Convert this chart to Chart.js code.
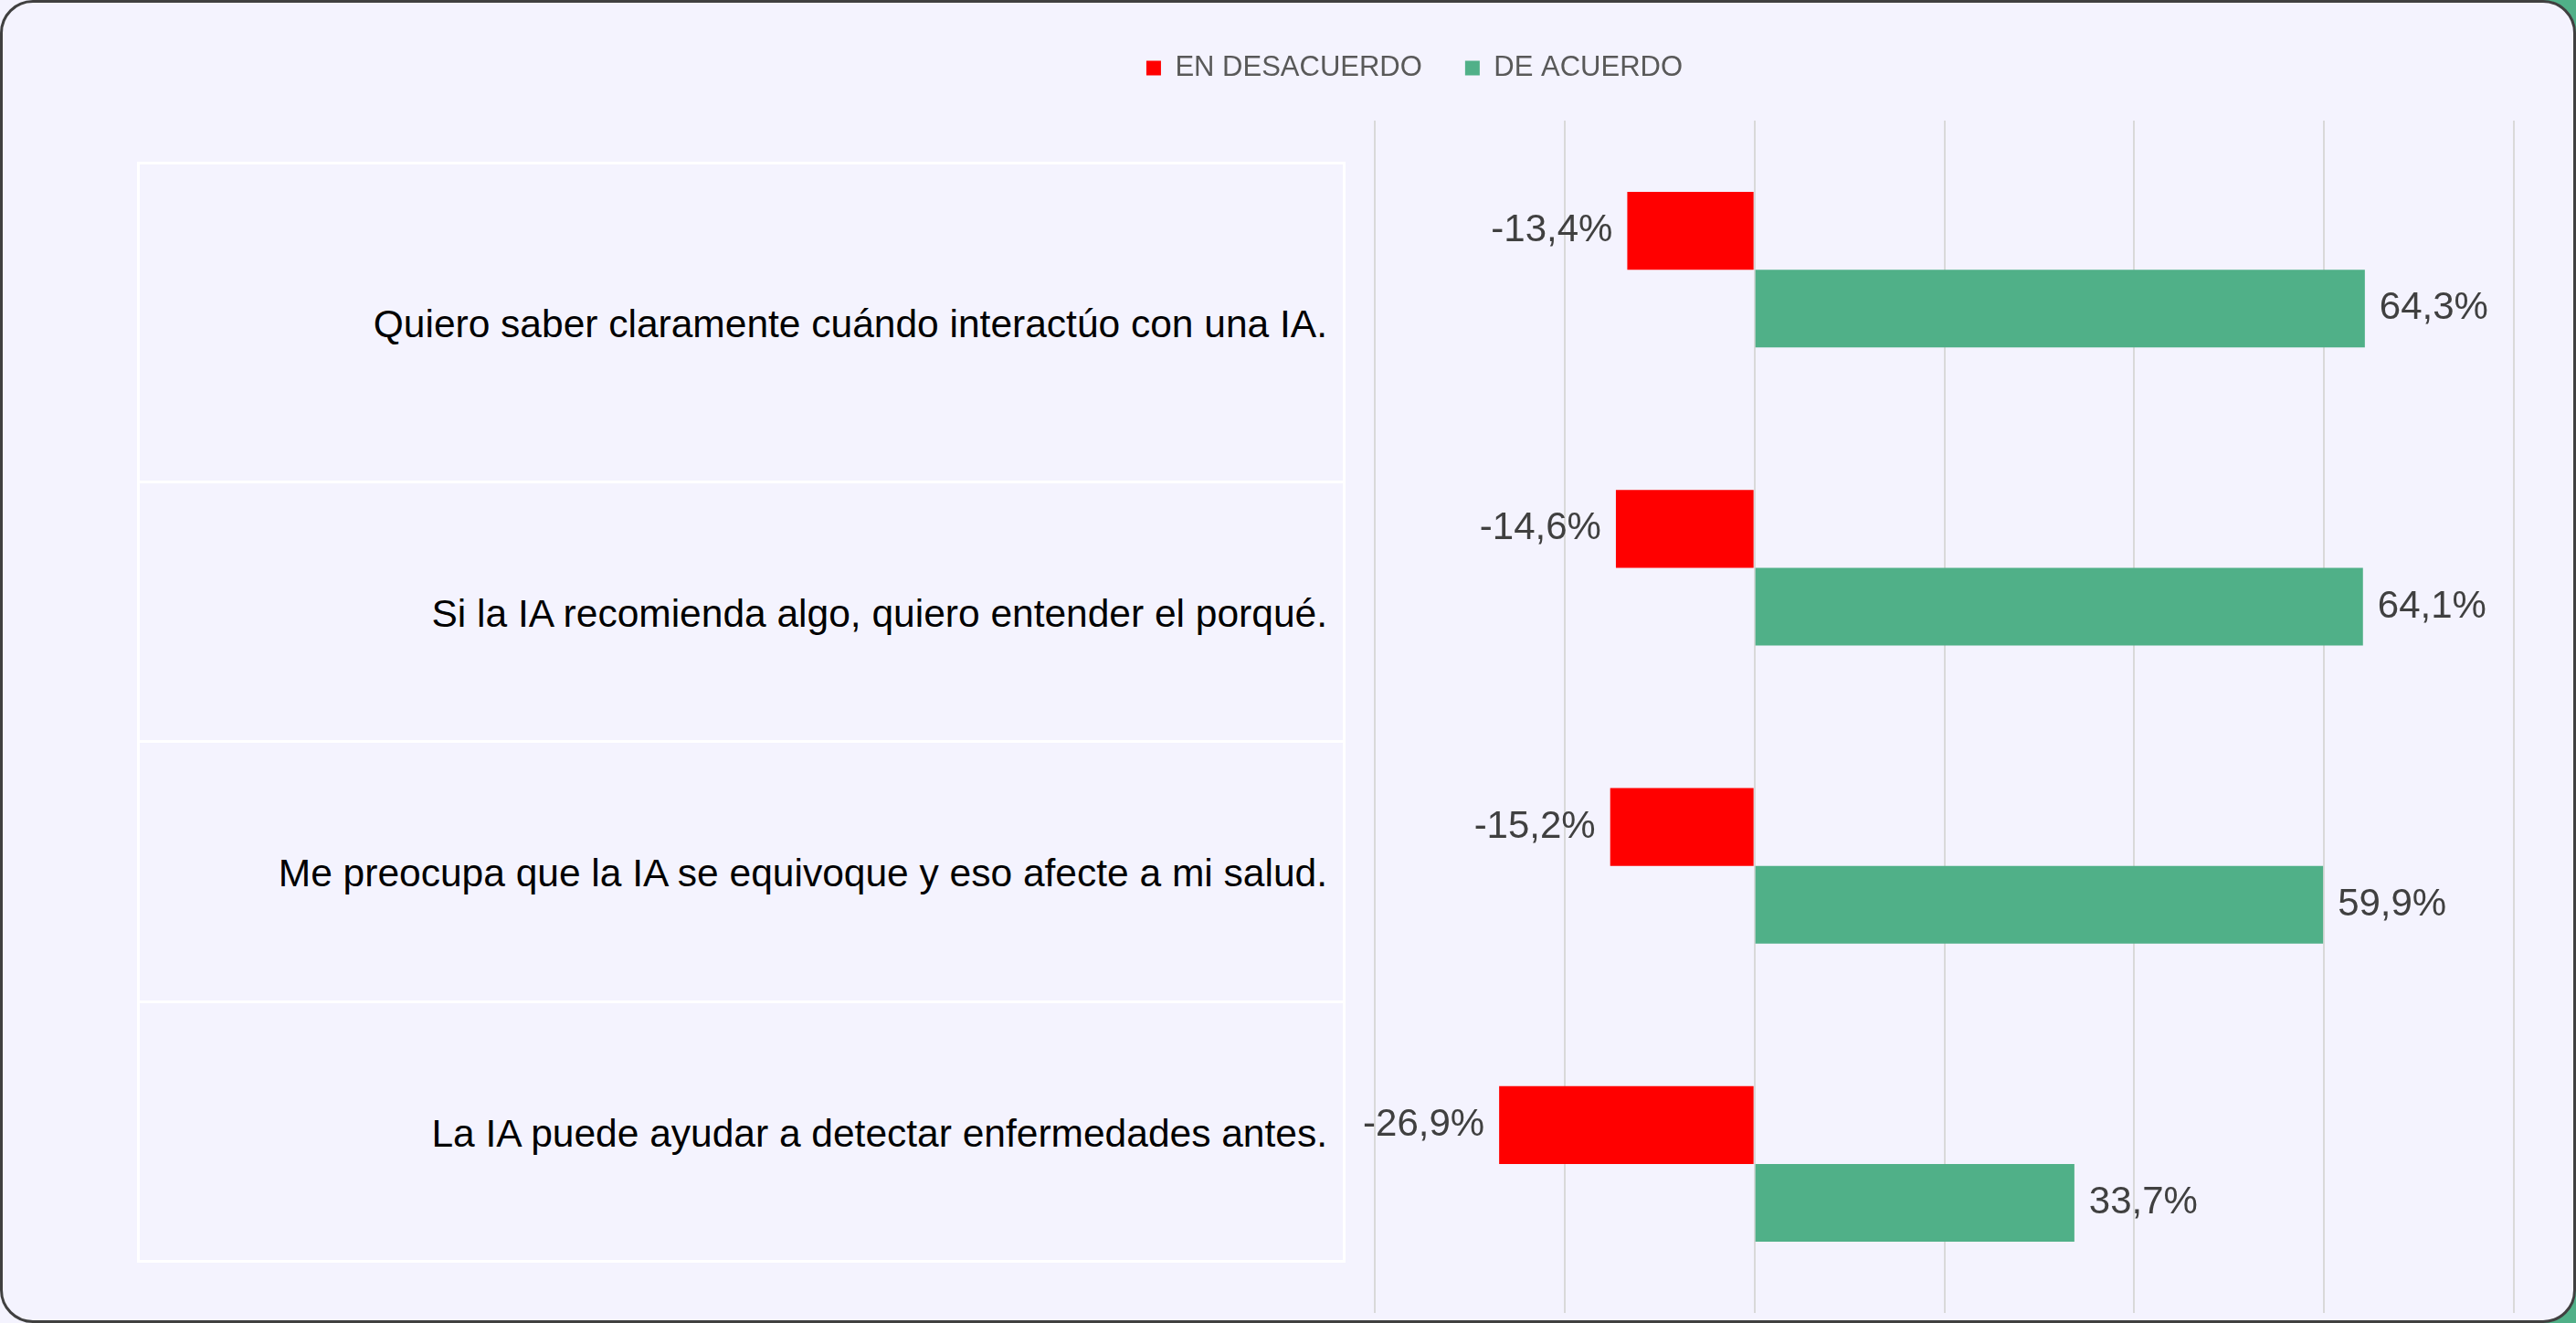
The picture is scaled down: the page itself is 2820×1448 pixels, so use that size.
<!DOCTYPE html>
<html>
<head>
<meta charset="utf-8">
<script src="https://cdn.jsdelivr.net/npm/chart.js@4/dist/chart.umd.min.js"></script>
<style>
  html, body { margin: 0; padding: 0; overflow: hidden; }
  body { width: 2820px; height: 1448px; background: linear-gradient(to right, #F4F3FE 50%, #50B088 50%); font-family: "Liberation Sans", Arial, sans-serif; }
  #frame { position: absolute; left: 0; top: 0; width: 2820px; height: 1448px; box-sizing: border-box;
           border: 3px solid #404040; border-radius: 36px; background: #F4F3FE; }
  #wrap { position: absolute; left: 0; top: 0; width: 2820px; height: 1448px; }
  .cell { position: absolute; box-sizing: border-box; border: 3px solid #ffffff;
          display: flex; align-items: center; justify-content: flex-end;
          padding-right: 17px; padding-top: 4px; font-size: 42.5px; color: #000000; white-space: nowrap; }
</style>
</head>
<body>
<div id="frame"></div>
<div id="cells"></div>
<div id="wrap"><canvas id="chart"></canvas></div>
<script>
// chart data
const categories = [
    'Quiero saber claramente cuándo interactúo con una IA.',
    'Si la IA recomienda algo, quiero entender el porqué.',
    'Me preocupa que la IA se equivoque y eso afecte a mi salud.',
    'La IA puede ayudar a detectar enfermedades antes.'
];
const seriesNames = ['EN DESACUERDO', 'DE ACUERDO'];
const desacuerdo = [-13.4, -14.6, -15.2, -26.9];
const deAcuerdo = [64.3, 64.1, 59.9, 33.7];
const xTicks = [-40, -20, 0, 20, 40, 60, 80];

// left label cells (sheet cells beside the chart)
const cellLeft = 150, cellRight = 1473;
const rowLines = [177, 526, 810, 1095, 1379];
const cellsDiv = document.getElementById('cells');
categories.forEach((text, i) => {
    const d = document.createElement('div');
    d.className = 'cell';
    d.style.left = cellLeft + 'px';
    d.style.width = (cellRight - cellLeft) + 'px';
    d.style.top = rowLines[i] + 'px';
    d.style.height = (rowLines[i + 1] - rowLines[i] + 3) + 'px';
    d.textContent = text;
    cellsDiv.appendChild(d);
});

const fmt = v => v.toFixed(1).replace('.', ',') + '%';

// value labels next to each bar
const valueLabels = {
    id: 'valueLabels',
    afterDatasetsDraw(chart) {
        const ctx = chart.ctx;
        ctx.save();
        ctx.font = '42px "Liberation Sans", Arial, sans-serif';
        ctx.fillStyle = '#404040';
        ctx.textBaseline = 'middle';
        chart.data.datasets.forEach((ds, di) => {
            chart.getDatasetMeta(di).data.forEach((bar, i) => {
                const v = ds.data[i];
                if (v < 0) {
                    ctx.textAlign = 'right';
                    ctx.fillText(fmt(v), bar.x - 16, bar.y);
                } else {
                    ctx.textAlign = 'left';
                    ctx.fillText(fmt(v), bar.x + 16, bar.y);
                }
            });
        });
        ctx.restore();
    }
};

new Chart(document.getElementById('chart').getContext('2d'), {
    type: 'bar',
    data: {
        labels: categories,
        datasets: [
            { label: seriesNames[0], data: desacuerdo, backgroundColor: '#FF0000', borderWidth: 0 },
            { label: seriesNames[1], data: deAcuerdo, backgroundColor: '#50B088', borderWidth: 0 }
        ]
    },
    options: {
        indexAxis: 'y',
        responsive: true,
        maintainAspectRatio: false,
        animation: false,
        categoryPercentage: 0.522,
        barPercentage: 1,
        layout: { padding: { left: 345, right: 68, top: 12, bottom: 11 } },
        plugins: {
            tooltip: { enabled: false },
            legend: {
                position: 'top',
                labels: {
                    boxWidth: 16, boxHeight: 16, padding: 47,
                    color: '#595959',
                    font: { family: '"Liberation Sans", Arial, sans-serif', size: 31 }
                }
            }
        },
        scales: {
            x: {
                position: 'top',
                min: xTicks[0],
                max: xTicks[xTicks.length - 1],
                ticks: { display: false, stepSize: xTicks[1] - xTicks[0] },
                grid: { color: '#D9D9D9', lineWidth: 2, drawTicks: false },
                border: { display: false },
                afterFit: axis => { axis.height = 32; }
            },
            y: {
                ticks: { display: false },
                grid: { display: false },
                border: { display: false },
                afterFit: axis => { axis.width = 1160; }
            }
        }
    },
    plugins: [valueLabels]
});
</script>
</body>
</html>
